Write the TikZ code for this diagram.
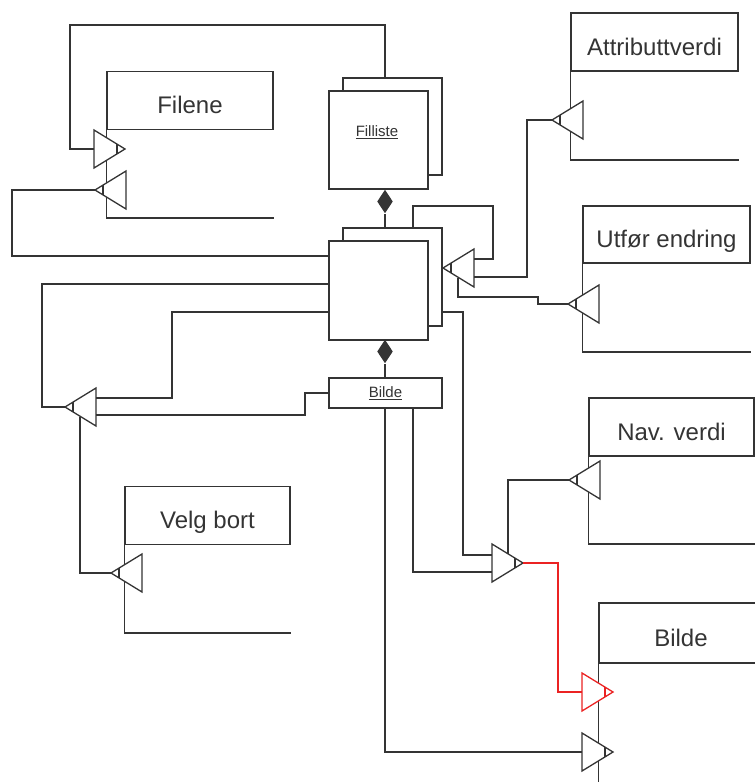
\documentclass[tikz,border=0pt]{standalone}
\usepackage{fontspec}
\setmainfont{Liberation Sans}
\usetikzlibrary{shapes.geometric}
\definecolor{linecol}{RGB}{52,52,52}
\definecolor{flowred}{RGB}{235,35,35}
\begin{document}
\begin{tikzpicture}[x=1pt,y=-1pt, line width=1.3pt, color=linecol,
  hdr/.style={draw, rectangle, inner sep=0pt, minimum height=58pt,
    font=\fontsize{24}{28}\selectfont, text height=26pt, text depth=0pt},
  box/.style={draw, fill=white, rectangle, inner sep=0pt},
  dmd/.style={diamond, fill=linecol, inner sep=0pt, minimum width=16pt, minimum height=24pt},
  small/.style={font=\fontsize{15}{17}\selectfont},
  triL/.pic={
    \path[draw, fill=white, pic actions] (0,0) -- (31,-19) -- (31,19) -- cycle;
    \path[draw, pic actions] (8,-5) -- (8,5);
    \coordinate (-apex) at (0,0);
    \coordinate (-base) at (31,0);
    \coordinate (-lo) at (15,9.5);
    \coordinate (-up) at (15,-9.5);
  },
  triR/.pic={
    \path[draw, fill=white, pic actions] (0,0) -- (-31,-19) -- (-31,19) -- cycle;
    \path[draw, pic actions] (-8,-5) -- (-8,5);
    \coordinate (-apex) at (0,0);
    \coordinate (-base) at (-31,0);
    \coordinate (-lo) at (-15,9.5);
    \coordinate (-up) at (-15,-9.5);
  }]
\useasboundingbox (0,0) rectangle (755,782);
\clip (0,0) rectangle (755,782);

% lanes: header with an open body below
\node[hdr, minimum width=166pt] (filene) at (190,100.5) {Filene};
\draw (filene.south west) |- (filene.south east |- 0,218);
\node[hdr, minimum width=165pt] (velg) at (207.5,515.5) {Velg bort};
\draw (velg.south west) |- (velg.south east |- 0,633);
\node[hdr, minimum width=167pt] (attr) at (654.5,42) {Attributtverdi};
\draw (attr.south west) |- (attr.south east |- 0,160);
\node[hdr, minimum width=167pt, minimum height=57pt] (utfor) at (666.5,234.5) {Utfør endring};
\draw (utfor.south west) |- (utfor.south east |- 0,352);
\node[hdr, minimum width=165pt] (nav) at (671.5,427) {Nav. verdi};
\draw (nav.south west) |- (760,544);
\node[hdr, minimum width=164pt, minimum height=60pt] (bilde) at (681,633) {Bilde};
\draw (bilde.south west) -- (bilde.south west |- 0,790);

% stacked boxes
\node[box, minimum width=99pt, minimum height=97pt] (fb) at (392.5,126.5) {};
\node[box, minimum width=99pt, minimum height=98pt] (ff) at (378.5,140) {};
\node[small] (ffl) at (377,132) {\underline{Filliste}};
\node[box, minimum width=113pt, minimum height=30pt, small] (bs) at (385.5,393) {\underline{Bilde}};
\node[box, minimum width=99pt, minimum height=98pt] (mb) at (392.5,277) {};
\node[box, minimum width=99pt, minimum height=99pt] (mf) at (378.5,290.5) {};
\node[dmd] (dia1) at (385,201.5) {};
\node[dmd] (dia2) at (385,351.5) {};

% triangles
\pic (t1) at (125,149) {triR};
\pic (t2) at (95,190) {triL};
\pic (t3) at (65,407) {triL};
\pic (t4) at (111,573) {triL};
\pic (t5) at (443,268) {triL};
\pic (t6) at (552,120) {triL};
\pic (t7) at (568,304) {triL};
\pic (t8) at (523,563) {triR};
\pic (t9) at (569,480) {triL};
\pic[flowred] (tr) at (613,692) {triR};
\pic (t10) at (613,752) {triR};

% connectors
\draw (dia1.south) -- (dia1 |- mb.north);
\draw (dia2.south) -- (dia2 |- bs.north);
\draw (dia1 |- fb.north) |- (70,25) |- (t1-base);
\draw (t2-apex) -| (12,256) -- (mf.west |- 0,256);
\draw (mf.west |- 0,284) -| (42,407) -- (t3-apex);
\draw (mf.west |- 0,312) -| (172,398) -- (t3-base |- 0,398);
\draw (bs.west) -| (305,415) -- (t3-base |- 0,415);
\draw (t3-lo) |- (t4-apex);
\draw (413,0 |- mb.north) |- (493,206) |- (t5-base |- 0,259);
\draw (t6-apex) -| (527,277) -- (t5-base |- 0,277);
\draw (t5-lo) |- (538,297) |- (t7-apex);
\draw (mb.east |- 0,312) -| (463,555) -- (t8-base |- 0,555);
\draw (413,0 |- bs.south) |- (t8-base |- 0,572);
\draw (dia2 |- bs.south) |- (t10-base);
\draw (t8-up) |- (t9-apex);
\draw[flowred] (t8-apex) -| (558,692) -- (tr-base);
\end{tikzpicture}
\end{document}
